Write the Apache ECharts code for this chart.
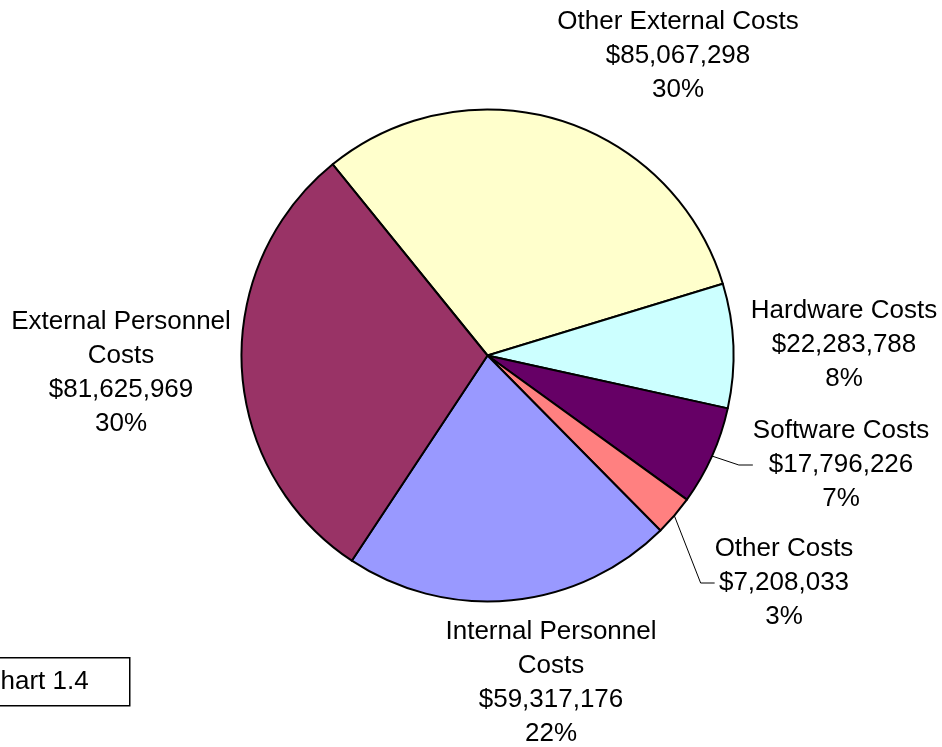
<!DOCTYPE html>
<html>
<head>
<meta charset="utf-8">
<script src="https://cdn.jsdelivr.net/npm/echarts@6/dist/echarts.min.js"></script>
<style>
html,body{margin:0;padding:0;background:#fff;}
#chart{width:942px;height:747px;}
</style>
</head>
<body>
<div id="chart"></div>
<script>
// ---- data ----
const categories = ['Other External Costs', 'Hardware Costs', 'Software Costs', 'Other Costs', 'Internal Personnel Costs', 'External Personnel Costs'];
const costValues = [85067298, 22283788, 17796226, 7208033, 59317176, 81625969];
const percentLabels = ['30%', '8%', '7%', '3%', '22%', '30%'];
const chartCaption = 'Chart 1.4';

// ---- presentation ----
const sliceColors = ['#FFFFCC', '#CCFFFF', '#660066', '#FF8080', '#9999FF', '#993366'];
const labelPlaces = [
  [678, 56], [844, 345], [841, 465], [784, 583], [551, 683], [121, 373]
];
const withLeader = {2: true, 3: true};

function fmtMoney(v) { return '$' + v.toLocaleString('en-US'); }
function wrapName(n) { return n.replace('Personnel ', 'Personnel\n'); }

const chart = echarts.init(document.getElementById('chart'), null, {renderer: 'canvas'});
const font = '"Liberation Sans", Arial, sans-serif';

const option = {
  backgroundColor: '#ffffff',
  animation: false,
  series: [{
    type: 'pie',
    center: [487.5, 355.5],
    radius: 246,
    startAngle: 129,
    clockwise: true,
    avoidLabelOverlap: false,
    itemStyle: { borderColor: '#000', borderWidth: 2 },
    label: {
      show: true,
      position: 'outside',
      color: '#000',
      fontFamily: font,
      fontSize: 26,
      lineHeight: 34,
      align: 'center',
      formatter: function (p) {
        return wrapName(p.name) + '\n' + fmtMoney(p.value) + '\n' + percentLabels[p.dataIndex];
      }
    },
    labelLine: {
      show: true,
      length: 10,
      length2: 14,
      smooth: false,
      lineStyle: { color: '#000', width: 1 }
    },
    labelLayout: function (params) {
      const pos = labelPlaces[params.dataIndex];
      return { x: pos[0], y: pos[1], align: 'center', verticalAlign: 'middle' };
    },
    emphasis: { disabled: true },
    data: categories.map(function (c, i) {
      return {
        name: c,
        value: costValues[i],
        itemStyle: { color: sliceColors[i] },
        labelLine: { show: !!withLeader[i] }
      };
    })
  }],
  graphic: [{
    type: 'group',
    left: -30,
    top: 657,
    children: [{
      type: 'rect',
      shape: { x: 0, y: 0, width: 159, height: 48 },
      style: { fill: '#fff', stroke: '#000', lineWidth: 1.5 }
    }, {
      type: 'text',
      x: 11,
      y: 24,
      style: {
        text: chartCaption,
        font: '26px "Liberation Sans", Arial, sans-serif',
        fill: '#000',
        textVerticalAlign: 'middle'
      }
    }]
  }]
};
chart.setOption(option);
</script>
</body>
</html>
